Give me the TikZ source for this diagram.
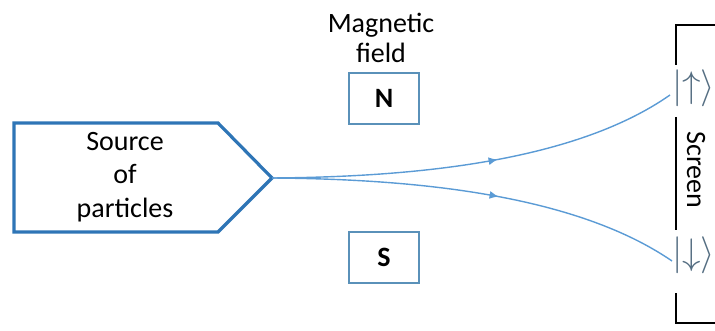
\documentclass[tikz,border=0pt]{standalone}
\usepackage{fontspec}
\setmainfont{Carlito}
\usetikzlibrary{decorations.markings,arrows.meta}
\definecolor{srcblue}{RGB}{46,117,182}
\definecolor{beam}{RGB}{91,155,213}
\definecolor{magblue}{RGB}{90,145,185}
\definecolor{ketcol}{RGB}{85,110,130}
\begin{document}
\begin{tikzpicture}[x=1pt,y=-1pt,
  lbl/.style={font=\fontsize{28}{33.6}\selectfont, align=center, inner sep=0pt},
  pole/.style={draw=magblue, line width=1.2pt, minimum width=70pt, minimum height=51pt,
    font=\fontsize{28}{33.6}\selectfont\bfseries, inner sep=0pt},
  beamline/.style={draw=beam, line width=1.4pt, postaction={decorate},
    decoration={markings, mark=at position 0.55 with {\arrow{Latex[length=9pt,width=8pt]}}}},
  ket/.style={text=ketcol, font=\fontsize{10}{12}\selectfont, scale=3.7, inner sep=0pt, anchor=west},
  screenline/.style={draw=black, line width=1.3pt},
  sourcebox/.style={draw=srcblue, line width=3.2pt, line join=miter}]
\useasboundingbox (0,0) rectangle (715,331);

% source of particles
\draw[sourcebox] (14,123) -- (218,123) -- (272,178) coordinate (tip) -- (218,232) -- (14,232) -- cycle;
\node[lbl] (src) at (125,177) {Source\\of\\particles};

% magnetic field
\node[lbl, font=\fontsize{28}{30}\selectfont] (mag) at (381,37.5) {Magnetic\\field};
\node[pole] (N) at (384,98.5) {N};
\node[pole] (S) at (384,257.5) {S};

% screen
\draw[screenline] (716,25) -- (676,25) -- (676,65);
\draw[screenline] (676,117) -- (676,230);
\draw[screenline] (676,293) -- (676,323) -- (716,323);
\node[lbl, rotate=-90] (scr) at (696,170) {Screen};
\node[ket] (up) at (671.3,88) {$|{\uparrow}\rangle$};
\node[ket] (down) at (671.3,255) {$|{\downarrow}\rangle$};

% beams
\coordinate (upend) at (670,95);
\coordinate (downend) at (672,261);
\draw[beamline] (tip) .. controls (400,177) and (570,165) .. (upend);
\draw[beamline] (tip) .. controls (400,179) and (570,191) .. (downend);
\end{tikzpicture}
\end{document}
